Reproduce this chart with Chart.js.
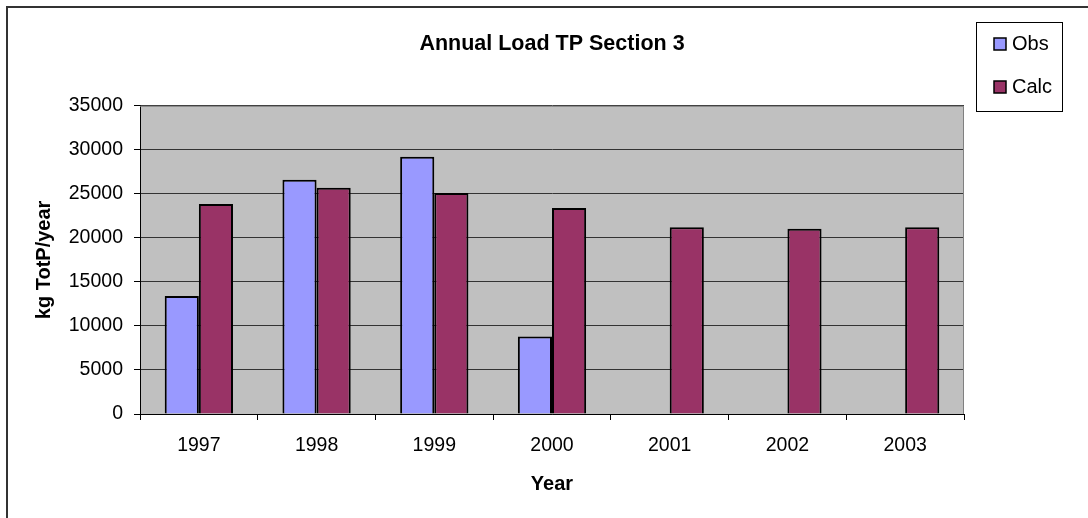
<!DOCTYPE html>
<html>
<head>
<meta charset="utf-8">
<title>Annual Load TP Section 3</title>
<script src="https://cdn.jsdelivr.net/npm/chart.js@4/dist/chart.umd.min.js"></script>
<style>
    body { margin: 0; background: #fff; }
    #wrap { position: relative; width: 1088px; height: 518px; }
</style>
</head>
<body>
<div id="wrap"><canvas id="myChart" width="1088" height="518"></canvas></div>
<script>
const years = ['1997', '1998', '1999', '2000', '2001', '2002', '2003'];
const obsLoad = [13400, 26600, 29200, 8800, null, null, null];
const calcLoad = [23850, 25700, 25100, 23400, 21200, 21050, 21200];
const yTicks = [0, 5000, 10000, 15000, 20000, 25000, 30000, 35000];

const FONT = "'Liberation Sans', Arial, sans-serif";

// grey plot area, frame around the whole picture, and the boxed legend
const chartDecor = {
    id: 'chartDecor',
    beforeDatasetsDraw(chart) {
        const { ctx, chartArea: a } = chart;
        ctx.save();
        ctx.strokeStyle = '#808080';
        ctx.lineWidth = 1;
        ctx.beginPath();
        ctx.moveTo(a.left, a.top + 0.5);
        ctx.lineTo(a.right - 0.5, a.top + 0.5);
        ctx.lineTo(a.right - 0.5, a.bottom);
        ctx.stroke();
        ctx.restore();
    },
    beforeDraw(chart) {
        const { ctx, chartArea: a } = chart;
        ctx.save();
        ctx.fillStyle = '#c0c0c0';
        ctx.fillRect(a.left, a.top, a.right - a.left, a.bottom - a.top);
        ctx.strokeStyle = '#333';
        ctx.lineWidth = 2;
        ctx.beginPath();
        ctx.moveTo(7, 518);
        ctx.lineTo(7, 7);
        ctx.lineTo(1088, 7);
        ctx.stroke();
        ctx.restore();
    },
    afterDraw(chart) {
        const ctx = chart.ctx;
        ctx.save();
        ctx.strokeStyle = '#000';
        ctx.lineWidth = 1;
        ctx.strokeRect(976.5, 22.5, 86, 89);
        ctx.font = '20px ' + FONT;
        ctx.textBaseline = 'middle';
        chart.data.datasets.forEach((ds, i) => {
            const y = 44 + i * 43;
            ctx.fillStyle = ds.backgroundColor;
            ctx.fillRect(994, y - 6, 12, 12);
            ctx.strokeStyle = '#000';
            ctx.lineWidth = 1.5;
            ctx.strokeRect(994, y - 6, 12, 12);
            ctx.fillStyle = '#000';
            ctx.fillText(ds.label, 1012, y);
        });
        ctx.restore();
    }
};

new Chart(document.getElementById('myChart'), {
    type: 'bar',
    data: {
        labels: years,
        datasets: [
            {
                label: 'Obs',
                data: obsLoad,
                backgroundColor: '#9999ff',
                borderColor: '#000',
                borderWidth: 2
            },
            {
                label: 'Calc',
                data: calcLoad,
                backgroundColor: '#993366',
                borderColor: '#000',
                borderWidth: 2
            }
        ]
    },
    options: {
        responsive: false,
        animation: false,
        layout: { padding: { left: 8, right: 124, top: 20, bottom: 0 } },
        datasets: {
            bar: { categoryPercentage: 0.58, barPercentage: 1.0 }
        },
        plugins: {
            legend: { display: false },
            tooltip: { enabled: false },
            title: {
                display: true,
                text: 'Annual Load TP Section 3',
                fullSize: false,
                color: '#000',
                font: { family: FONT, size: 21.5, weight: 'bold' },
                padding: { top: 11, bottom: 49 }
            }
        },
        scales: {
            x: {
                afterFit(scale) { scale.height = 104; },
                grid: {
                    drawOnChartArea: false,
                    drawTicks: true,
                    tickLength: 6,
                    color: '#000'
                },
                border: { color: '#000', width: 1 },
                ticks: {
                    color: '#000',
                    font: { family: FONT, size: 19.5 },
                    padding: 14
                },
                title: {
                    display: true,
                    text: 'Year',
                    color: '#000',
                    font: { family: FONT, size: 20, weight: 'bold' },
                    padding: { top: 0, bottom: 22 }
                }
            },
            y: {
                min: 0,
                max: 35000,
                afterFit(scale) { scale.width = 132; },
                afterBuildTicks(scale) {
                    scale.ticks = yTicks.map(v => ({ value: v }));
                },
                grid: {
                    color: '#333',
                    tickColor: '#000',
                    tickLength: 6
                },
                border: { color: '#000', width: 1 },
                ticks: {
                    color: '#000',
                    font: { family: FONT, size: 19.5 },
                    padding: 11,
                    callback: v => String(v)
                },
                title: {
                    display: true,
                    text: 'kg TotP/year',
                    color: '#000',
                    font: { family: FONT, size: 20, weight: 'bold' },
                    padding: { top: 24, bottom: 0 }
                }
            }
        }
    },
    plugins: [chartDecor]
});
</script>
</body>
</html>
